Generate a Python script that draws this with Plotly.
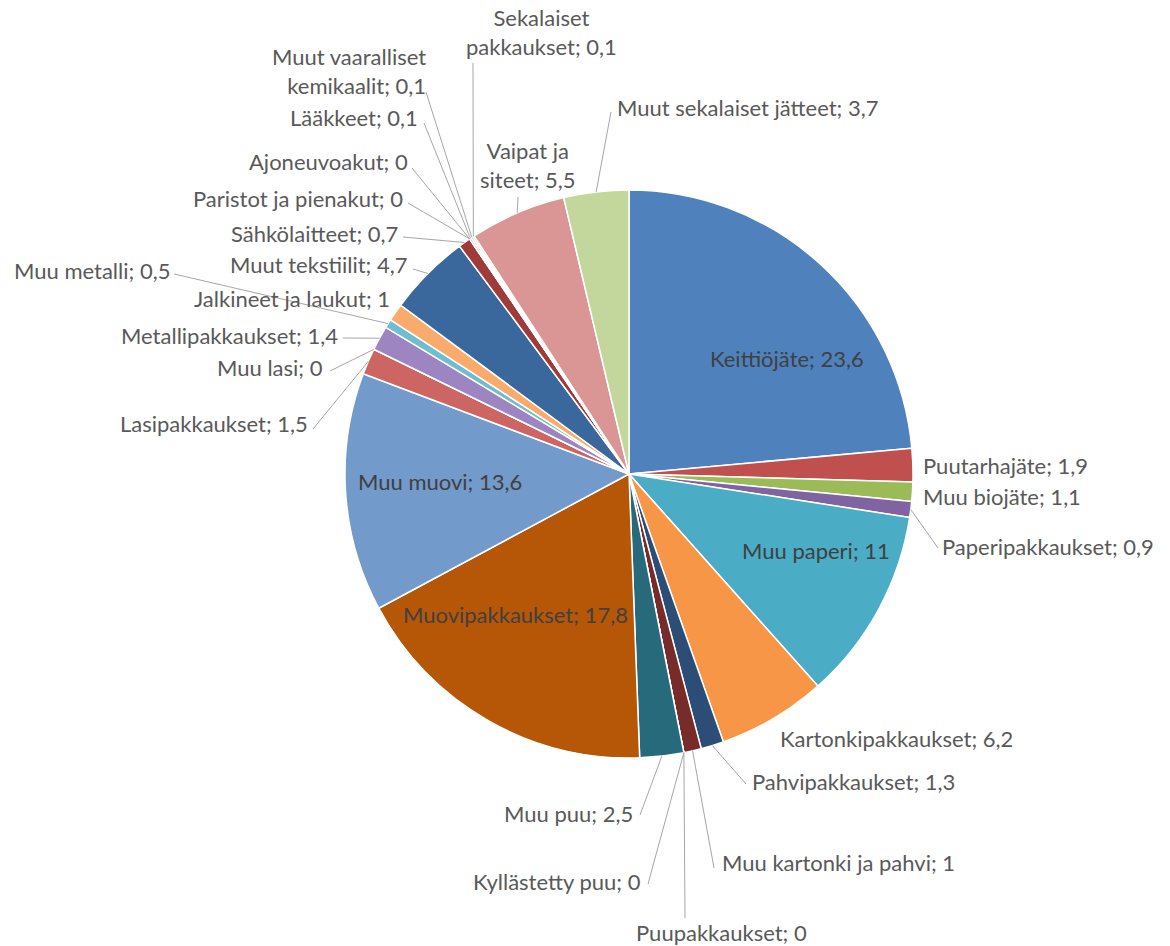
import math
import plotly.graph_objects as go

labels = ["Keittiöjäte", "Puutarhajäte", "Muu biojäte", "Paperipakkaukset", "Muu paperi",
          "Kartonkipakkaukset", "Pahvipakkaukset", "Muu kartonki ja pahvi", "Puupakkaukset",
          "Kyllästetty puu", "Muu puu", "Muovipakkaukset", "Muu muovi", "Lasipakkaukset",
          "Muu lasi", "Metallipakkaukset", "Muu metalli", "Jalkineet ja laukut",
          "Muut tekstiilit", "Sähkölaitteet", "Paristot ja pienakut", "Ajoneuvoakut",
          "Lääkkeet", "Muut vaaralliset kemikaalit", "Sekalaiset pakkaukset",
          "Vaipat ja siteet", "Muut sekalaiset jätteet"]
values = [23.6, 1.9, 1.1, 0.9, 11, 6.2, 1.3, 1, 0, 0, 2.5, 17.8, 13.6, 1.5, 0, 1.4, 0.5, 1,
          4.7, 0.7, 0, 0, 0.1, 0.1, 0.1, 5.5, 3.7]
# label text as displayed (line breaks where the reference wraps)
display = ["Keittiöjäte", "Puutarhajäte", "Muu biojäte", "Paperipakkaukset", "Muu paperi",
           "Kartonkipakkaukset", "Pahvipakkaukset", "Muu kartonki ja pahvi", "Puupakkaukset",
           "Kyllästetty puu", "Muu puu", "Muovipakkaukset", "Muu muovi", "Lasipakkaukset",
           "Muu lasi", "Metallipakkaukset", "Muu metalli", "Jalkineet ja laukut",
           "Muut tekstiilit", "Sähkölaitteet", "Paristot ja pienakut", "Ajoneuvoakut",
           "Lääkkeet", "Muut vaaralliset<br>kemikaalit", "Sekalaiset<br>pakkaukset",
           "Vaipat ja<br>siteet", "Muut sekalaiset jätteet"]
colors = ["#4F81BD", "#C0504D", "#9BBB59", "#8064A2", "#4BACC6", "#F79646", "#2C4D75",
          "#772C2A", "#5F7530", "#4D3B62", "#276A7C", "#B65708", "#729ACA", "#CD6562",
          "#AFC97A", "#9C85C0", "#6FBDD1", "#F9AB6B", "#3A679C", "#9F3B38", "#809C3F",
          "#66507F", "#3C8DA3", "#CC7B38", "#95B3D7", "#D99694", "#C3D69B"]

# layout: label placement (pixel anchor, xanchor, leader-line attach point or None, inside?)
W, H = 1170, 946
CX, CY, R = 629, 474, 284
placement = [
    ((787, 358), "center", None, True),
    ((921, 465), "left", None, False),
    ((921, 497), "left", None, False),
    ((940, 546), "left", (938, 548), False),
    ((816, 550), "center", None, True),
    ((778, 738), "left", None, False),
    ((750, 781), "left", (746, 784), False),
    ((720, 862), "left", (714, 868), False),
    ((721, 932), "center", (685, 918), False),
    ((643, 881), "right", (648, 884), False),
    ((635, 813), "right", (640, 815), False),
    ((515, 614), "center", None, True),
    ((440, 481), "center", None, True),
    ((310, 423), "right", (313, 429), False),
    ((325, 367), "right", (330, 371), False),
    ((340, 335), "right", (343, 338), False),
    ((172, 270), "right", (174, 274), False),
    ((392, 298), "right", None, False),
    ((410, 265), "right", (413, 269), False),
    ((400, 233), "right", (403, 237), False),
    ((405, 198), "right", (408, 203), False),
    ((410, 162), "right", (412, 168), False),
    ((420, 118), "right", (424, 123), False),
    ((428, 71), "right", (426, 92), False),
    ((541, 32), "center", (473, 63), False),
    ((528, 165), "center", (518, 197), False),
    ((615, 107), "left", (611, 112), False),
]

FONT = "Lato"
FS = 22

fig = go.Figure(go.Pie(
    labels=labels, values=values, sort=False, direction="clockwise", rotation=0,
    marker=dict(colors=colors, line=dict(color="white", width=1.5)),
    textinfo="none", hoverinfo="label+value", showlegend=False,
    domain=dict(x=[(CX - R) / W, (CX + R) / W], y=[1 - (CY + R) / H, 1 - (CY - R) / H]),
))

def px2paper(x, y):
    return x / W, 1 - y / H

total = sum(values)
cum = 0.0
annotations = []
shapes = []
for lab, disp, v, (pos, anchor, attach, inside) in zip(labels, display, values, placement):
    mid = (cum + v / 2) / total * 2 * math.pi
    cum += v
    tipx = CX + R * math.sin(mid)
    tipy = CY - R * math.cos(mid)
    valtxt = ("%g" % v).replace(".", ",")
    text = f"{disp}; {valtxt}"
    px, py = px2paper(*pos)
    annotations.append(dict(
        x=px, y=py, xref="paper", yref="paper", text=text, showarrow=False,
        xanchor=anchor, yanchor="middle", align=anchor if anchor != "center" else "center",
        font=dict(family=FONT, size=FS, color="#404040" if inside else "#595959"),
    ))
    if attach is not None:
        ax, ay = attach
        x0, y0 = px2paper(ax, ay)
        x1, y1 = px2paper(tipx, tipy)
        shapes.append(dict(type="path", xref="paper", yref="paper",
                           path=f"M {x0} {y0} L {x1} {y1}",
                           line=dict(color="#A6A6A6", width=1)))

fig.update_layout(
    width=W, height=H, margin=dict(l=0, r=0, t=0, b=0),
    paper_bgcolor="white", plot_bgcolor="white",
    annotations=annotations, shapes=shapes,
)
fig.write_html("out.html", config={"displayModeBar": False},
               post_script="document.body.style.margin='0';")
